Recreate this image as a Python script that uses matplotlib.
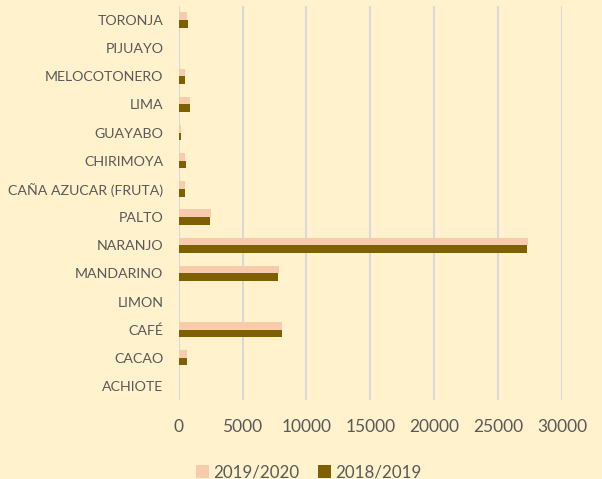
import matplotlib
matplotlib.use("Agg")
import matplotlib.pyplot as plt
import numpy as np

categories = ["ACHIOTE", "CACAO", "CAFÉ", "LIMON", "MANDARINO", "NARANJO", "PALTO",
              "CAÑA AZUCAR (FRUTA)", "CHIRIMOYA", "GUAYABO", "LIMA", "MELOCOTONERO",
              "PIJUAYO", "TORONJA"]
s2019_2020 = [5, 630, 8080, 20, 7820, 27350, 2500, 480, 530, 180, 870, 470, 50, 650]
s2018_2019 = [5, 650, 8110, 15, 7800, 27270, 2470, 530, 550, 160, 900, 470, 40, 700]
series_names = ["2019/2020", "2018/2019"]
xticks = [0, 5000, 10000, 15000, 20000, 25000, 30000]

bg = "#FFF2CC"
c_pink = "#F8CBAD"
c_dark = "#7F6000"
txt = "#595959"

plt.rcParams['font.family'] = ['Lato', 'DejaVu Sans']

fig = plt.figure(figsize=(6.02, 4.79), dpi=100, facecolor=bg)
ax = fig.add_axes([0.2968, 0.1649, 0.6367, 0.8226], facecolor=bg)

y = np.arange(len(categories))
h = 0.27
ax.barh(y + h / 2, s2019_2020, height=h, color=c_pink, label=series_names[0], zorder=3)
ax.barh(y - h / 2, s2018_2019, height=h, color=c_dark, label=series_names[1], zorder=3)

ax.set_xlim(0, 30000)
ax.set_ylim(-0.5, len(categories) - 0.5)
ax.set_xticks(xticks)
ax.set_xticklabels([str(v) for v in xticks])
ax.set_yticks(y)
ax.set_yticklabels(categories)
ax.xaxis.grid(True, color="#D9D9D9", linewidth=1.5, zorder=0)
ax.yaxis.grid(False)
for s in ax.spines.values():
    s.set_visible(False)
ax.tick_params(axis='x', length=0, pad=14, labelsize=12.5, labelcolor=txt)
ax.tick_params(axis='y', length=0, pad=11, labelsize=10.2, labelcolor=txt)

leg = fig.legend(loc='lower center', bbox_to_anchor=(0.513, -0.035), ncol=2, frameon=False,
                 fontsize=12.2, handlelength=0.75, handleheight=0.75, handletextpad=0.25,
                 columnspacing=1.1, labelcolor=txt)

fig.savefig("out.png", dpi=100, facecolor=bg)
